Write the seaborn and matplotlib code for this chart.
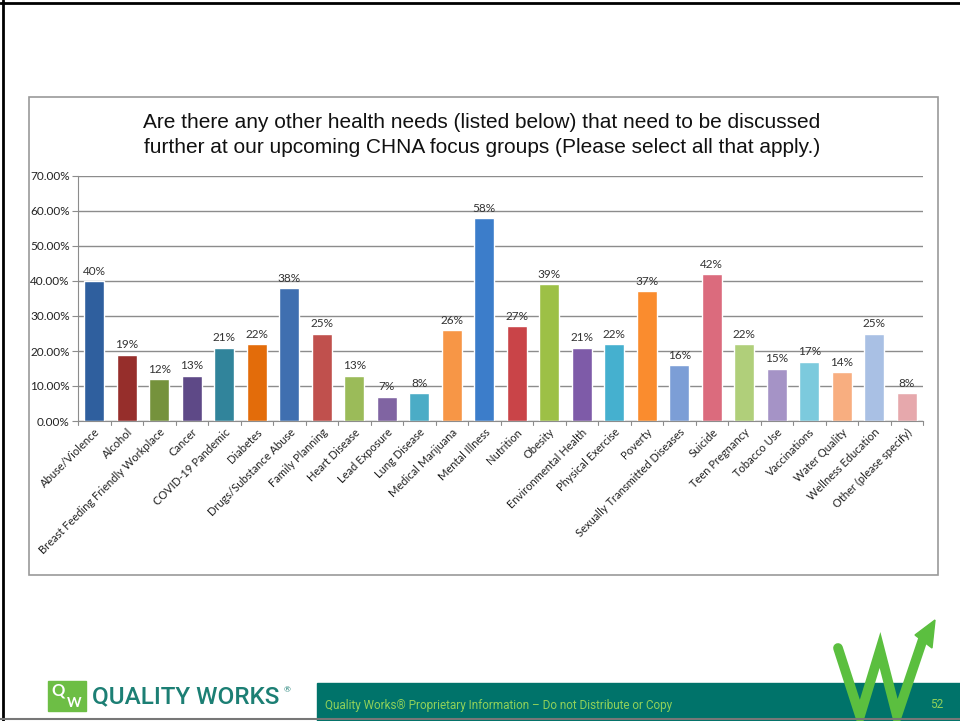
import pandas as pd
import matplotlib.pyplot as plt
import seaborn as sns
from matplotlib.patches import Rectangle
from matplotlib.lines import Line2D

# Survey data
categories = ["Abuse/Violence", "Alcohol", "Breast Feeding Friendly Workplace", "Cancer",
              "COVID-19 Pandemic", "Diabetes", "Drugs/Substance Abuse", "Family Planning",
              "Heart Disease", "Lead Exposure", "Lung Disease", "Medical Marijuana",
              "Mental Illness", "Nutrition", "Obesity", "Environmental Health",
              "Physical Exercise", "Poverty", "Sexually Transmitted Diseases", "Suicide",
              "Teen Pregnancy", "Tobacco Use", "Vaccinations", "Water Quality",
              "Wellness Education", "Other (please specify)"]
percents = [40, 19, 12, 13, 21, 22, 38, 25, 13, 7, 8, 26, 58, 27, 39, 21, 22, 37,
            16, 42, 22, 15, 17, 14, 25, 8]
bar_colors = ["#2F5F9E", "#962E2B", "#75923C", "#5E4987", "#31849B", "#E36C0A",
              "#3F6FB0", "#C0504D", "#9BBB59", "#8064A2", "#4BACC6", "#F79646",
              "#3C7DCA", "#C94448", "#9DC046", "#7E5BA8", "#45B0CF", "#FA8C2E",
              "#7C9ED6", "#DB6B7D", "#B0CF7A", "#A593C6", "#7CCADD", "#F8AE80",
              "#A9C0E4", "#E6A8AC"]
y_ticks = [0, 10, 20, 30, 40, 50, 60, 70]

df = pd.DataFrame({"Need": categories, "Percent": percents})

sns.set_style("white")
plt.rcParams["font.family"] = ["Lato", "DejaVu Sans"]

fig = plt.figure(figsize=(9.6, 7.21), dpi=100)

# slide border and chart frame
fig.add_artist(Line2D([0, 1], [1 - 3/721, 1 - 3/721], color="black", lw=2))
fig.add_artist(Line2D([3/960, 3/960], [0, 1], color="black", lw=2))
fig.add_artist(Rectangle((29/960, 1 - 575/721), 909/960, 478/721, fill=False,
                         edgecolor="#9a9a9a", lw=1.2))

ax = fig.add_axes([78/960, 1 - 421/721, 845/960, 245/721])
sns.barplot(data=df, x="Need", y="Percent", hue="Need", palette=bar_colors,
            legend=False, width=0.62, ax=ax, saturation=1)

for i, v in enumerate(percents):
    ax.text(i, v + 1.2, f"{v}%", ha="center", va="bottom", fontsize=8.5, color="#333333")

ax.set_ylim(0, 70)
ax.set_xlim(-0.5, len(categories) - 0.5)
ax.set_yticks(y_ticks)
ax.set_yticklabels([f"{t:.2f}%" for t in y_ticks], fontsize=8.5, color="#222222")
ax.yaxis.grid(True, color="#8c8c8c", lw=1)
ax.set_axisbelow(True)
ax.set_xlabel("")
ax.set_ylabel("")
ax.set_xticks(range(len(categories)))
ax.set_xticklabels(categories, rotation=45, ha="right", rotation_mode="anchor",
                   fontsize=8, color="#222222")
ax.tick_params(axis="x", length=0, pad=4)
ax.tick_params(axis="y", length=4, color="#8c8c8c", left=True, pad=2)
# category separator ticks
for k in range(len(categories) + 1):
    ax.plot([k - 0.5, k - 0.5], [0, -1.2], color="#8c8c8c", lw=0.8, clip_on=False)
for s in ["top", "right"]:
    ax.spines[s].set_visible(False)
ax.spines["left"].set_color("#8c8c8c")
ax.spines["bottom"].set_color("#8c8c8c")

fig.text(482/960, 1 - 135/721, "Are there any other health needs (listed below) that need to be discussed\n"
         "further at our upcoming CHNA focus groups (Please select all that apply.)",
         ha="center", va="center", fontsize=15, family="Liberation Sans", color="#111111",
         linespacing=1.35)

# footer
fig.add_artist(Rectangle((317/960, 0), 643/960, 38/721, color="#00736A"))
fig.text(325/960, 16/721, "Quality Works\u00ae Proprietary Information \u2013 Do not Distribute or Copy",
         fontsize=8.5, color="#8FD05A", va="center", family="Roboto")
fig.text(937/960, 16/721, "52", fontsize=8.5, color="#8FD05A", va="center", ha="center",
         family="Roboto")
fig.add_artist(Rectangle((48/960, 10/721), 38/960, 30/721, color="#6DBE45"))
fig.text(58/960, 30/721, "Q", fontsize=12, color="white", fontweight="bold", va="center", ha="center")
fig.text(74/960, 18/721, "W", fontsize=10, color="white", fontweight="bold", va="center", ha="center")
fig.text(92/960, 24/721, "QUALITY WORKS", fontsize=17.5, color="#1C7F74", va="center",
         family="Roboto", fontweight="medium")
fig.text(284/960, 31/721, "\u00ae", fontsize=6, color="#1C7F74", va="center")
fig.add_artist(Line2D([838/960, 860/960, 880/960, 897/960, 924/960],
                      [1 - 648/721, 1 - 716/721, 1 - 650/721, 1 - 716/721, 1 - 636/721],
                      color="#5BBF3F", lw=7, solid_joinstyle="miter"))
fig.add_artist(plt.Polygon([(915/960, 1 - 635/721), (935/960, 1 - 620/721), (932/960, 1 - 648/721)],
                           color="#5BBF3F"))
fig.add_artist(Line2D([0, 1], [2/721, 2/721], color="#777777", lw=1.5))

fig.savefig("out.png", dpi=100)
